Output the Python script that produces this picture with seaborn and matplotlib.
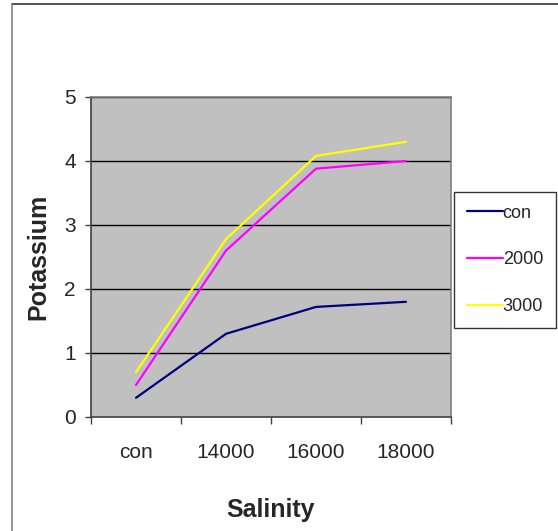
import matplotlib
matplotlib.use("Agg")
import matplotlib.pyplot as plt
import seaborn as sns
import pandas as pd
from matplotlib.lines import Line2D

categories = ["con", "14000", "16000", "18000"]
series_names = ["con", "2000", "3000"]
con_vals = [0.3, 1.3, 1.72, 1.8]
s2000_vals = [0.5, 2.6, 3.88, 4.0]
s3000_vals = [0.7, 2.78, 4.08, 4.3]
y_ticks = [0, 1, 2, 3, 4, 5]
colors = ["#000080", "#FF00FF", "#FFFF00"]

rows = []
for name, vals in zip(series_names, [con_vals, s2000_vals, s3000_vals]):
    for c, v in zip(categories, vals):
        rows.append({"Salinity": c, "Potassium": v, "series": name})
df = pd.DataFrame(rows)

sns.set_style("white")
plt.rcParams["font.family"] = ["Liberation Sans", "DejaVu Sans"]

W, H = 558, 531
fig = plt.figure(figsize=(W / 100, H / 100), dpi=100)
ax = fig.add_axes([91/W, 1 - 417/H, 360/W, 320/H])
ax.set_facecolor("#C0C0C0")

sns.lineplot(data=df, x="Salinity", y="Potassium", hue="series",
             hue_order=series_names, palette=colors, sort=False,
             linewidth=1.6, ax=ax, legend=True)

ax.set_xlim(-0.5, 3.5)
ax.set_ylim(0, 5)
ax.set_yticks(y_ticks)
ax.set_yticklabels([str(t) for t in y_ticks], fontsize=15)
for t in y_ticks[1:]:
    ax.axhline(t, color="black", linewidth=1, zorder=0.5)

ax.set_xticks([-0.5, 0.5, 1.5, 2.5, 3.5])
ax.set_xticklabels([])
ax.set_xticks(range(len(categories)), minor=True)
ax.set_xticklabels(categories, minor=True, fontsize=15)
ax.tick_params(axis="x", which="major", direction="out", length=5, width=1,
               color="#404040", bottom=True)
ax.tick_params(axis="x", which="minor", length=0, pad=19)
ax.tick_params(axis="y", direction="out", length=4, width=1, color="#404040",
               left=True, pad=7)

for side in ["left", "bottom"]:
    ax.spines[side].set_color("#404040")
    ax.spines[side].set_linewidth(1.2)
for side in ["top", "right"]:
    ax.spines[side].set_color("#808080")
    ax.spines[side].set_linewidth(1.2)

ax.set_xlabel("Salinity", fontsize=18, fontweight="bold", labelpad=26)
ax.set_ylabel("Potassium", fontsize=18, fontweight="bold", labelpad=10)

leg = ax.legend(loc="upper left", bbox_to_anchor=(1.008, 0.703),
                borderaxespad=0, fontsize=13, frameon=True, fancybox=False,
                handlelength=2.0, handletextpad=0.0, labelspacing=1.65,
                borderpad=0.7)
leg.get_frame().set_edgecolor("black")
leg.get_frame().set_linewidth(1)
leg.get_frame().set_facecolor("white")

# figure frame: top and left edges only
fig.add_artist(Line2D([12/W, 1], [1 - 4/H, 1 - 4/H], transform=fig.transFigure,
                      color="#333333", linewidth=1.2))
fig.add_artist(Line2D([12/W, 12/W], [0, 1 - 4/H], transform=fig.transFigure,
                      color="#808080", linewidth=1.2))

fig.savefig("out.png", dpi=100, facecolor="white")
